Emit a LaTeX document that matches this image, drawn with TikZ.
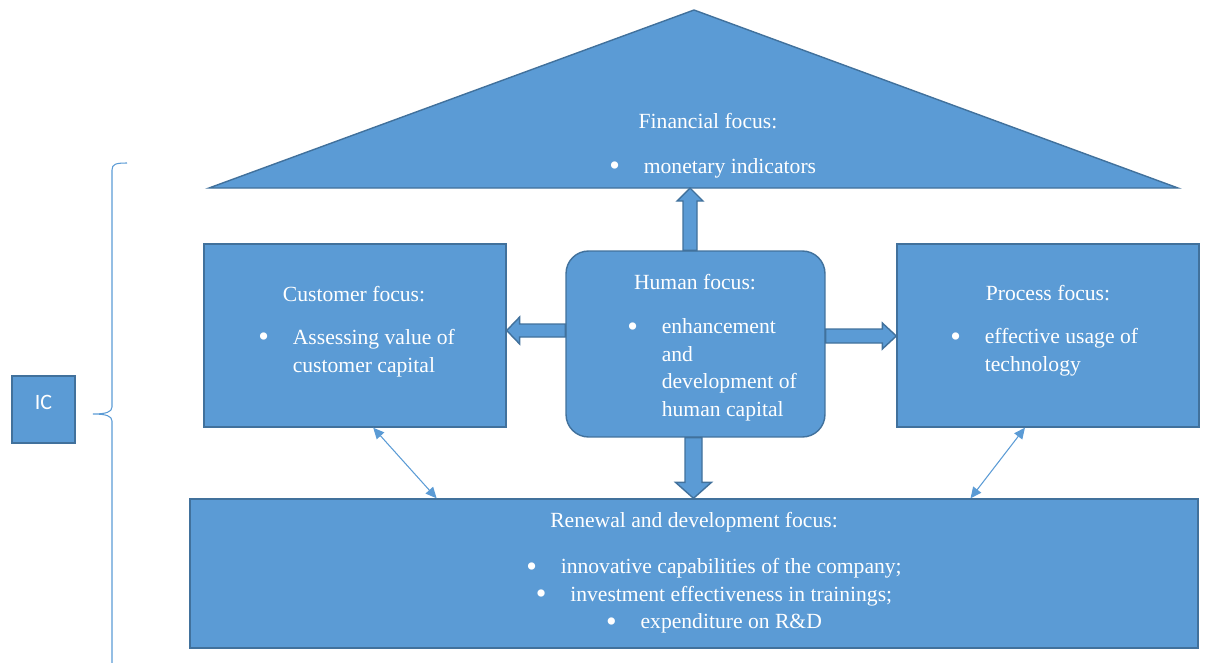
\documentclass[tikz,border=0pt]{standalone}
\usepackage{fontspec}
\setmainfont{Liberation Serif}
\newfontfamily\calibri{Carlito}
\usetikzlibrary{arrows.meta, calc, positioning}
\definecolor{officeblue}{HTML}{5B9BD5}
\definecolor{officeedge}{HTML}{41719C}

% bullet with its indent, and the indent alone for follow-on lines
\newcommand{\bitem}{\makebox[0.69cm][l]{\raisebox{-1.3pt}{\scalebox{1.4}{\textbullet}}}}
\newcommand{\bskip}{\hspace*{0.69cm}}

% wide block arrow: shaft half width, head half width, head length, from, to
\newcommand{\fatarrow}[5]{%
	\coordinate (fa-n) at ($(#5)!#3!(#4)$);
	\filldraw[fat] ($(#4)!#1!90:(#5)$) -- ($(fa-n)!#1!-90:(#4)$) -- ($(fa-n)!#2!-90:(#4)$) -- (#5)
		-- ($(fa-n)!#2!90:(#4)$) -- ($(fa-n)!#1!90:(#4)$) -- ($(#4)!#1!-90:(#5)$) -- cycle;}

\begin{document}
\begin{tikzpicture}[x=0.02cm, y=-0.02cm,
		box/.style={draw=officeedge, fill=officeblue, line width=0.8pt},
		fat/.style={draw=officeedge, fill=officeblue, line width=0.8pt, line join=miter},
		link/.style={officeblue, line width=0.6pt, {Triangle[length=0.22cm,width=0.2cm]}-{Triangle[length=0.22cm,width=0.2cm]}},
		txt/.style={text=white, inner sep=0pt, font=\fontsize{12.3pt}{15.7pt}\selectfont}]
				\useasboundingbox (0,0) rectangle (1205,663);
				
				% the brace that gathers everything under IC
				\draw[officeblue, line width=0.6pt] (127,163) .. controls (116,163) and (112,164) .. (112,170) -- (112,407)
					.. controls (112,412) and (106,414) .. (93,414) .. controls (106,414) and (112,416) .. (112,421) -- (112,663);
				
				\node[box, minimum width=1.26cm, minimum height=1.34cm, text=white, text height=0.28cm, text depth=0.28cm,
					font=\calibri\fontsize{12.5pt}{14pt}\selectfont] (ic) at (43.5,409.5) {IC};
				
				% roof
				\coordinate (roofL) at (209,188);
				\coordinate (roofTop) at (694,10);
				\coordinate (roofR) at (1178,188);
				\draw[box, line join=miter] (roofL) -- (roofTop) -- (roofR) -- cycle;
				\node[txt] (fintitle) at (708,121) {Financial focus:};
				\node[txt, anchor=west] (finlist) at (609,168) {\bitem monetary indicators};
				
				% the three middle blocks
				\node[box, minimum width=6.04cm, minimum height=3.66cm] (cust) at (355,335.5) {};
				\node[txt] (custtitle) at (354,294) {Customer focus:};
				\node[txt, anchor=west, align=left] (custlist) at (258,353) {\bitem Assessing value of\\ \bskip customer capital};
				
				\node[box, rounded corners=0.45cm, minimum width=5.18cm, minimum height=3.72cm] (human) at (695.5,344) {};
				\node[txt] (humantitle) at (695,282) {Human focus:};
				\node[txt, anchor=west, align=left] (humanlist) at (627,370)
					{\bitem enhancement\\ \bskip and\\ \bskip development of\\ \bskip human capital};
				
				\node[box, minimum width=6.04cm, minimum height=3.66cm] (proc) at (1048,335.5) {};
				\node[txt] (proctitle) at (1048,293) {Process focus:};
				\node[txt, anchor=west, align=left] (proclist) at (950,352.5) {\bitem effective usage of\\ \bskip technology};
				
				% foundation
				\node[box, minimum width=20.16cm, minimum height=2.98cm] (renew) at (694,573.5) {};
				\node[txt] (renewtitle) at (694,522) {Renewal and development focus:};
				\node[txt, align=center] (renewlist) at (714,596)
					{\bitem innovative capabilities of the company;\\ \bitem investment effectiveness in trainings;\\ \bitem expenditure on R\&D};
				
				% block arrows out of the human block
				\coordinate (upfoot) at ([xshift=-0.11cm]human.north);
				\coordinate (leftfoot) at ([yshift=0.27cm]human.west);
				\coordinate (rightfoot) at ([yshift=0.16cm]human.east);
				\coordinate (downfoot) at ([xshift=-0.04cm]human.south);
				\fatarrow{0.14cm}{0.26cm}{0.26cm}{upfoot}{upfoot |- roofL}
				\fatarrow{0.13cm}{0.27cm}{0.26cm}{leftfoot}{leftfoot -| cust.east}
				\fatarrow{0.14cm}{0.26cm}{0.28cm}{rightfoot}{rightfoot -| proc.west}
				\fatarrow{0.17cm}{0.36cm}{0.32cm}{downfoot}{downfoot |- renew.north}
				
				% thin links down to the foundation
				\draw[link] ($(cust.south west)!0.56!(cust.south east)$) -- ($(renew.north west)!0.245!(renew.north east)$);
				\draw[link] ($(proc.south west)!0.424!(proc.south east)$) -- ($(renew.north west)!0.774!(renew.north east)$);
				
				\end{tikzpicture}
\end{document}
